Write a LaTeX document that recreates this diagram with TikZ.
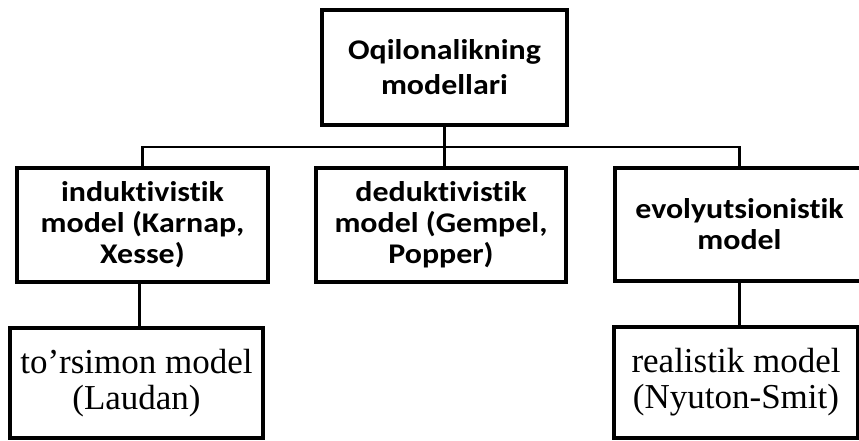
\documentclass[tikz,border=0pt]{standalone}
\usepackage{fontspec}
\setmainfont{Liberation Serif}
\newfontfamily\boxsans[FakeStretch=1.12,Ligatures=NoCommon,BoldFont={Carlito Bold}]{Carlito}
\begin{document}
\begin{tikzpicture}[x=1pt,y=-1pt,
  sbox/.style={draw=black,line width=3.2pt,inner sep=0pt,align=center,
    font=\boxsans\bfseries\fontsize{28.5}{31}\selectfont},
  tbox/.style={sbox,font=\boxsans\bfseries\fontsize{28.5}{35}\selectfont},
  rbox/.style={draw=black,line width=3.2pt,inner sep=0pt,align=center,
    font=\fontsize{35}{36}\selectfont},
  conn/.style={draw=black,line width=2.2pt}]
\useasboundingbox (0,0) rectangle (859,440);
\node[tbox,minimum width=245pt,minimum height=115pt] (top) at (444.5,67.5) {Oqilonalikning\\modellari};
\node[sbox,minimum width=251pt,minimum height=114pt] (ind) at (142.5,225) {induktivistik\\model (Karnap,\\Xesse)};
\node[sbox,minimum width=250pt,minimum height=114pt] (ded) at (441,225) {deduktivistik\\model (Gempel,\\Popper)};
\node[sbox,minimum width=249pt,minimum height=113pt,text width=249pt] (evo) at (739.5,224.5) {evolyutsionistik\\model};
\node[rbox,minimum width=253pt,minimum height=110pt] (tor) at (136.5,383) {to’rsimon model\\(Laudan)};
\node[rbox,minimum width=244pt,minimum height=111pt] (rea) at (736,382.5) {realistik model\\(Nyuton-Smit)};
\coordinate (bus) at (444,147);
\draw[conn] (top.south) -- (top.south |- ded.north);
\draw[conn] (ind.north) |- (bus) -| (evo.north);
\draw[conn] ([xshift=-3pt]ind.south) -- ([xshift=3pt]tor.north);
\draw[conn] (evo.south) -- (evo.south |- rea.north);
\end{tikzpicture}
\end{document}
